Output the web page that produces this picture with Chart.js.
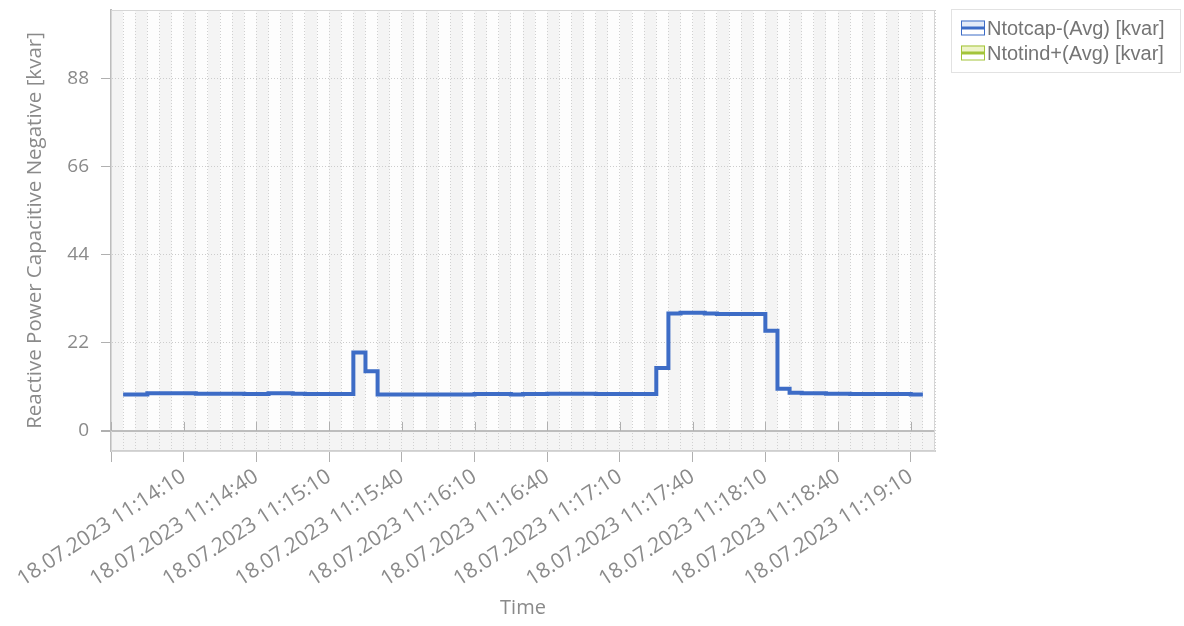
<!DOCTYPE html>
<html>
<head>
<meta charset="utf-8">
<title>Reactive Power Capacitive Negative</title>
<script src="https://cdn.jsdelivr.net/npm/chart.js@4/dist/chart.umd.min.js"></script>
<style>
    body { margin: 0; background: #fff; }
    #wrap { width: 1184px; height: 626px; position: relative; }
</style>
</head>
<body>
<div id="wrap"><canvas id="powerChart"></canvas></div>
<script>
// Data (one reading every 5 s)
const dateLabel = '18.07.2023';
const axisStart = '11:13:40';
const axisEnd = '11:19:20';

const times = [
    '11:13:45', '11:13:50', '11:13:55', '11:14:00', '11:14:05', '11:14:10', '11:14:15', '11:14:20',
    '11:14:25', '11:14:30', '11:14:35', '11:14:40', '11:14:45', '11:14:50', '11:14:55', '11:15:00',
    '11:15:05', '11:15:10', '11:15:15', '11:15:20', '11:15:25', '11:15:30', '11:15:35', '11:15:40',
    '11:15:45', '11:15:50', '11:15:55', '11:16:00', '11:16:05', '11:16:10', '11:16:15', '11:16:20',
    '11:16:25', '11:16:30', '11:16:35', '11:16:40', '11:16:45', '11:16:50', '11:16:55', '11:17:00',
    '11:17:05', '11:17:10', '11:17:15', '11:17:20', '11:17:25', '11:17:30', '11:17:35', '11:17:40',
    '11:17:45', '11:17:50', '11:17:55', '11:18:00', '11:18:05', '11:18:10', '11:18:15', '11:18:20',
    '11:18:25', '11:18:30', '11:18:35', '11:18:40', '11:18:45', '11:18:50', '11:18:55', '11:19:00',
    '11:19:05', '11:19:10', '11:19:15'
];

const ntotcap = [
    9.1, 9.1, 9.4, 9.4, 9.4, 9.4, 9.3, 9.3,
    9.3, 9.3, 9.2, 9.2, 9.4, 9.4, 9.3, 9.2,
    9.2, 9.2, 9.2, 19.6, 14.9, 9.1, 9.1, 9.1,
    9.1, 9.1, 9.1, 9.1, 9.1, 9.2, 9.2, 9.2,
    9.1, 9.2, 9.2, 9.3, 9.3, 9.3, 9.3, 9.2,
    9.2, 9.2, 9.2, 9.2, 15.7, 29.3, 29.5, 29.5,
    29.3, 29.2, 29.2, 29.2, 29.2, 25.0, 10.5, 9.5,
    9.4, 9.4, 9.3, 9.3, 9.2, 9.2, 9.2, 9.2,
    9.2, 9.1, 9.1
];

const ntotind = []; // no values visible in the picture

const yTicks = [0, 22, 44, 66, 88];
const xTickLabels = ['11:14:10', '11:14:40', '11:15:10', '11:15:40', '11:16:10', '11:16:40',
    '11:17:10', '11:17:40', '11:18:10', '11:18:40', '11:19:10'];

// helpers: time string <-> seconds since axis start
function toSec(t) {
    const p = t.split(':').map(Number);
    return p[0] * 3600 + p[1] * 60 + p[2];
}
const t0 = toSec(axisStart);
const rel = t => toSec(t) - t0;
function fmt(v) {
    const s = t0 + v;
    const pad = n => String(n).padStart(2, '0');
    return pad(Math.floor(s / 3600)) + ':' + pad(Math.floor(s / 60) % 60) + ':' + pad(s % 60);
}
const majorTicks = [0].concat(xTickLabels.map(rel));
const step = 5;

const gray = '#8a8a8a';
Chart.defaults.font.family = "'Open Sans', sans-serif";
Chart.defaults.color = gray;

// alternating bands + frame + small ticks on the zero line
const plotDecor = {
    id: 'plotDecor',
    beforeDraw(chart) {
        const {ctx, chartArea: a, scales: {x, y}} = chart;
        const yZero = y.getPixelForValue(0);
        ctx.save();
        ctx.fillStyle = '#f4f4f4';
        ctx.fillRect(a.left, a.top, a.right - a.left, a.bottom - a.top);
        ctx.fillStyle = '#fdfdfd';
        for (let v = 0; v < rel(axisEnd); v += step * 2) {
            const x0 = x.getPixelForValue(v + step);
            const x1 = x.getPixelForValue(v + step * 2);
            ctx.fillRect(x0, a.top, x1 - x0, yZero - a.top);
        }
        ctx.restore();
    },
    beforeDatasetsDraw(chart) {
        const {ctx, chartArea: a, scales: {x, y}} = chart;
        const yZero = y.getPixelForValue(0);
        ctx.save();
        ctx.strokeStyle = '#d6d6d6';
        ctx.lineWidth = 1;
        ctx.strokeRect(a.left + 0.5, a.top + 0.5, a.right - a.left - 1, a.bottom - a.top);
        ctx.strokeStyle = '#b0b0b0';
        majorTicks.forEach(v => {
            const px = Math.round(x.getPixelForValue(v)) + 0.5;
            ctx.beginPath();
            ctx.moveTo(px, yZero - 9);
            ctx.lineTo(px, yZero);
            ctx.stroke();
        });
        ctx.restore();
    }
};

// legend box on the right
const boxLegend = {
    id: 'boxLegend',
    afterDraw(chart) {
        const ctx = chart.ctx;
        const left = 951, top = 9, w = 229, h = 63, rowH = 25;
        ctx.save();
        ctx.strokeStyle = '#e2e2e2';
        ctx.lineWidth = 1;
        ctx.strokeRect(left + 0.5, top + 0.5, w, h);
        ctx.font = "20px 'Liberation Sans', Arial, sans-serif";
        ctx.textBaseline = 'middle';
        chart.data.datasets.forEach((ds, i) => {
            const cy = top + 19 + i * rowH;
            const ix = left + 10, iw = 24, ih = 15;
            ctx.fillStyle = '#ffffff';
            ctx.fillRect(ix, cy - ih / 2, iw, ih);
            ctx.fillStyle = ds.iconFill;
            ctx.fillRect(ix, cy - ih / 2, iw, ih / 2);
            ctx.strokeStyle = ds.borderColor;
            ctx.lineWidth = 1;
            ctx.strokeRect(ix + 0.5, cy - ih / 2 + 0.5, iw - 1, ih - 1);
            ctx.lineWidth = 3;
            ctx.beginPath();
            ctx.moveTo(ix, cy);
            ctx.lineTo(ix + iw, cy);
            ctx.stroke();
            ctx.fillStyle = '#757575';
            ctx.fillText(ds.label, ix + iw + 2, cy + 1);
        });
        ctx.restore();
    }
};

new Chart(document.getElementById('powerChart'), {
    type: 'line',
    data: {
        datasets: [{
            label: 'Ntotcap-(Avg) [kvar]',
            data: times.map((t, i) => ({x: rel(t), y: ntotcap[i]})),
            borderColor: '#3d6cc6',
            iconFill: '#e3ebf8',
            borderWidth: 4,
            stepped: true,
            pointRadius: 0,
            fill: false
        }, {
            label: 'Ntotind+(Avg) [kvar]',
            data: ntotind.map((v, i) => ({x: rel(times[i]), y: v})),
            borderColor: '#a3c43a',
            iconFill: '#eef4c9',
            borderWidth: 4,
            stepped: true,
            pointRadius: 0,
            fill: false
        }]
    },
    options: {
        responsive: true,
        maintainAspectRatio: false,
        animation: false,
        layout: { padding: { top: 10, right: 249, left: 0, bottom: 0 } },
        plugins: {
            legend: { display: false },
            tooltip: { enabled: false }
        },
        scales: {
            x: {
                type: 'linear',
                min: 0,
                max: rel(axisEnd),
                afterBuildTicks: scale => {
                    const ticks = [];
                    for (let v = 0; v <= rel(axisEnd); v += step) ticks.push({value: v});
                    scale.ticks = ticks;
                },
                afterFit: scale => {
                    scale.height = 175;
                    scale.paddingLeft = 0;
                    scale.paddingRight = 0;
                },
                ticks: {
                    autoSkip: false,
                    minRotation: 33,
                    maxRotation: 33,
                    padding: 2,
                    color: gray,
                    font: { size: 21 },
                    callback: v => xTickLabels.includes(fmt(v)) ? dateLabel + ' ' + fmt(v) : ''
                },
                grid: {
                    color: '#d0d0d0',
                    lineWidth: 1,
                    tickLength: 11,
                    tickColor: c => majorTicks.includes(c.tick.value) ? '#b0b0b0' : 'rgba(0,0,0,0)'
                },
                border: { display: true, color: '#cfcfcf', width: 2, dash: [1, 2] },
                title: {
                    display: true,
                    text: 'Time',
                    color: gray,
                    font: { size: 20 },
                    padding: { top: 0, bottom: 6 }
                }
            },
            y: {
                min: -5,
                max: 105,
                afterBuildTicks: scale => { scale.ticks = yTicks.map(v => ({value: v})); },
                afterFit: scale => {
                    scale.width = 111;
                    scale.paddingTop = 0;
                    scale.paddingBottom = 0;
                },
                ticks: {
                    padding: 12,
                    color: gray,
                    font: { size: 19 }
                },
                grid: {
                    color: c => c.tick && c.tick.value === 0 ? '#bdbdbd' : '#cccccc',
                    lineWidth: c => c.tick && c.tick.value === 0 ? 2 : 1,
                    tickLength: 10,
                    tickColor: '#b0b0b0'
                },
                border: {
                    display: true,
                    color: '#bdbdbd',
                    width: 2,
                    dash: c => c.tick && c.tick.value === 0 ? [] : [1, 2]
                },
                title: {
                    display: true,
                    text: 'Reactive Power Capacitive Negative [kvar]',
                    color: gray,
                    font: { size: 20.5 },
                    padding: { top: 23, bottom: 0 }
                }
            }
        }
    },
    plugins: [plotDecor, boxLegend]
});
</script>
</body>
</html>
